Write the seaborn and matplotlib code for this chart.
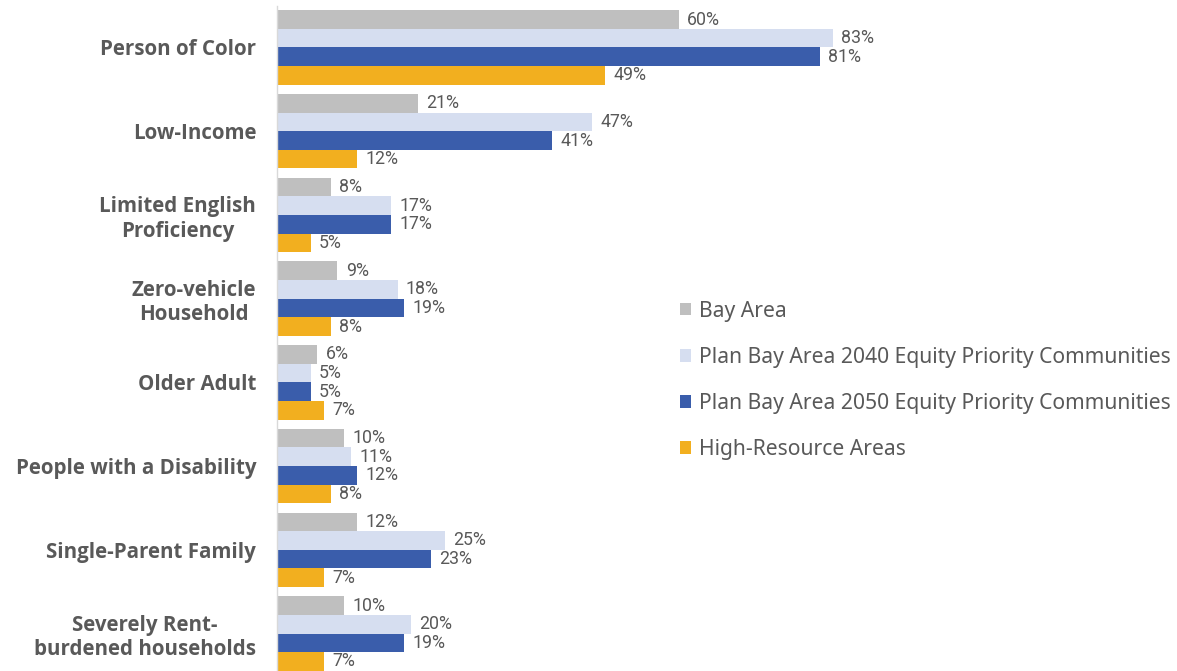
import matplotlib
matplotlib.use("Agg")
import matplotlib.pyplot as plt
import seaborn as sns
import pandas as pd
from matplotlib.patches import Patch

categories = ["Person of Color", "Low-Income", "Limited English\nProficiency",
              "Zero-vehicle\nHousehold", "Older Adult", "People with a Disability",
              "Single-Parent Family", "Severely Rent-\nburdened households"]
series = ["Bay Area", "Plan Bay Area 2040 Equity Priority Communities",
          "Plan Bay Area 2050 Equity Priority Communities", "High-Resource Areas"]
bay_area = [60, 21, 8, 9, 6, 10, 12, 10]
pba2040 = [83, 47, 17, 18, 5, 11, 25, 20]
pba2050 = [81, 41, 17, 19, 5, 12, 23, 19]
high_resource = [49, 12, 5, 8, 7, 8, 7, 7]
colors = ["#BFBFBF", "#D6DEF0", "#3A5DAB", "#F2AF1F"]

rows = []
for s, vals in zip(series, [bay_area, pba2040, pba2050, high_resource]):
    for c, v in zip(categories, vals):
        rows.append({"category": c, "series": s, "value": v})
df = pd.DataFrame(rows)

sns.set_style("white")
plt.rcParams["font.family"] = ["Noto Sans", "DejaVu Sans"]

fig = plt.figure(figsize=(11.77, 6.71), dpi=100)
# axes spans y from 5.6 px to 675.4 px (chart cropped at the bottom)
ax = fig.add_axes([277/1177, -4.4/671, 670/1177, 669.8/671])

sns.barplot(data=df, y="category", x="value", hue="series", orient="h",
            palette=colors, width=0.89, ax=ax, legend=False,
            edgecolor="none", linewidth=0, saturation=1)

ax.set_xlim(0, 100)
ax.set_ylim(7.5, -0.5)
ax.set_xlabel("")
ax.set_ylabel("")
ax.set_xticks([])
for sp in ["top", "right", "bottom"]:
    ax.spines[sp].set_visible(False)
ax.spines["left"].set_color("#D9D9D9")
ax.spines["left"].set_linewidth(1.0)

ax.set_yticks(range(len(categories)))
ax.set_yticklabels(categories)
for t in ax.get_yticklabels():
    t.set_fontfamily(["Open Sans", "Lato", "DejaVu Sans"])
    t.set_fontweight("bold")
    t.set_fontsize(14.8)
    t.set_color("#595959")
    t.set_multialignment("center")
ax.tick_params(axis="y", length=0, pad=15)

for cont in ax.containers:
    ax.bar_label(cont, labels=[f"{int(round(b.get_width()))}%" for b in cont],
                 padding=6, fontsize=12.8, color="#595959",
                 family=["Liberation Sans Narrow", "Roboto", "DejaVu Sans"])

handles = [Patch(facecolor=c, edgecolor="none") for c in colors]
fig.legend(handles, series, loc="upper left", bbox_to_anchor=(669/1177, 1 - 290/671),
           frameon=False, fontsize=15.2, labelcolor="#595959",
           handlelength=0.55, handleheight=0.55, handletextpad=0.35,
           labelspacing=1.19, borderpad=0)

fig.savefig("out.png", dpi=100)
